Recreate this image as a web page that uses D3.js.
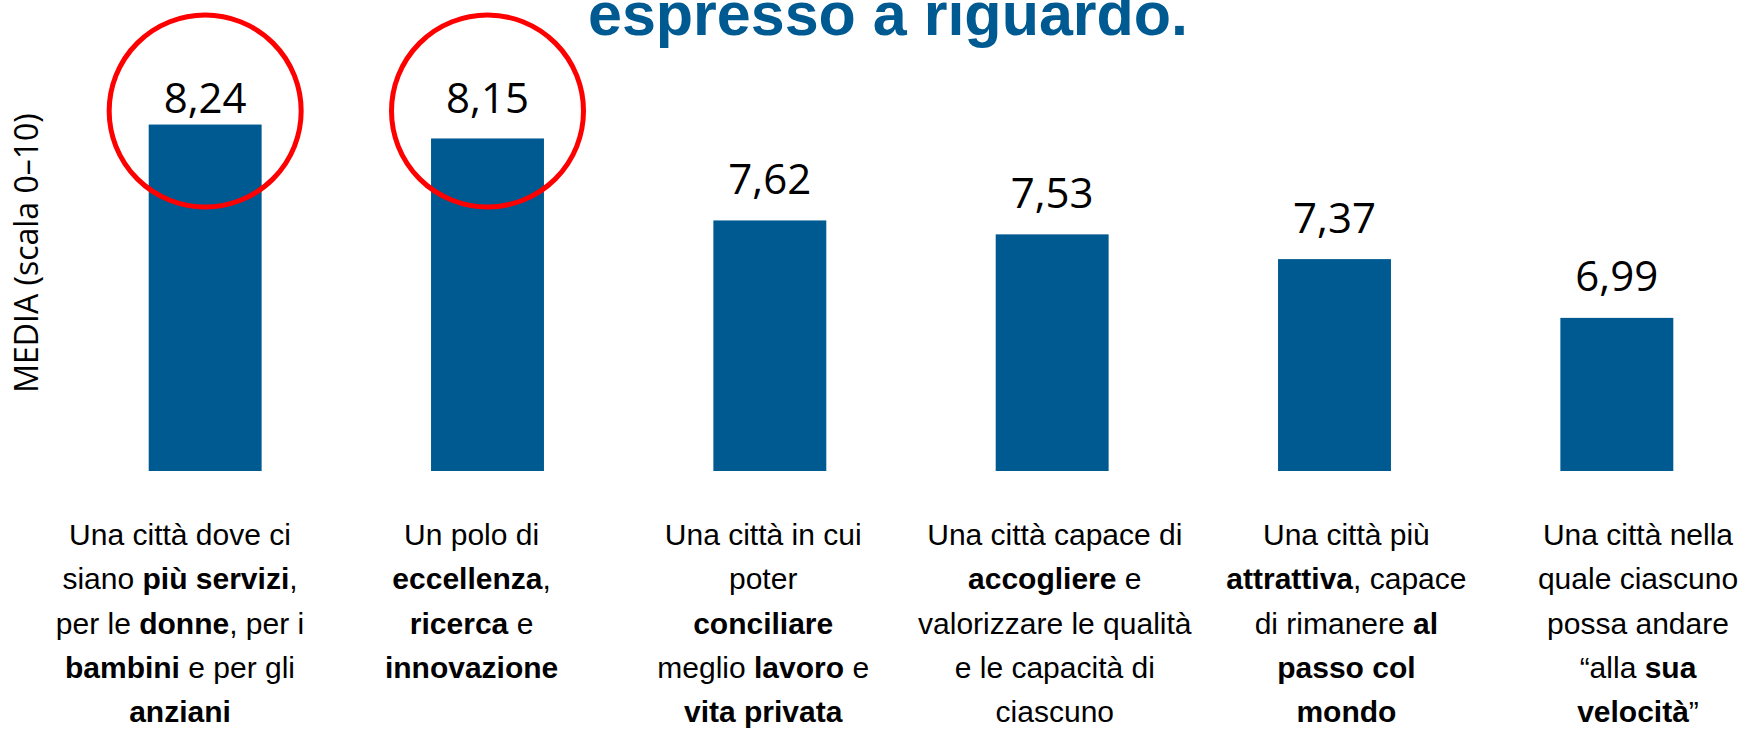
<!DOCTYPE html>
<html>
<head>
<meta charset="utf-8">
<script src="https://cdnjs.cloudflare.com/ajax/libs/d3/7.8.5/d3.min.js"></script>
<style>
    body { margin: 0; background: #ffffff; }
    svg { display: block; }
</style>
</head>
<body>
<div id="chart"></div>
<script>

// data -------------------------------------------------------------------------------------
var categories = ["servizi", "eccellenza", "conciliare", "accogliere", "attrattiva", "velocita"];
var values = [8.24, 8.15, 7.62, 7.53, 7.37, 6.99];
var highlighted = ["servizi", "eccellenza"];

// category labels, one array of lines per bar ( **...** = bold )
var labelLines = [
    ["Una città dove ci", "siano **più servizi**,", "per le **donne**, per i", "**bambini** e per gli", "**anziani**"],
    ["Un polo di", "**eccellenza**,", "**ricerca** e", "**innovazione**"],
    ["Una città in cui", "poter", "**conciliare**", "meglio **lavoro** e", "**vita privata**"],
    ["Una città capace di", "**accogliere** e", "valorizzare le qualità", "e le capacità di", "ciascuno"],
    ["Una città più", "**attrattiva**, capace", "di rimanere **al**", "**passo col**", "**mondo**"],
    ["Una città nella", "quale ciascuno", "possa andare", "“alla **sua**", "**velocità**”"]
];

var titleText = "espresso a riguardo.";
var yAxisTitle = "MEDIA (scala 0–10)";

// layout ------------------------------------------------------------------------------------
var width = 1743, height = 729;
var barColor = "#005A92";

var svg = d3.select("#chart")
    .append("svg")
    .attr("width", width)
    .attr("height", height);

var x = d3.scaleBand()
    .domain(categories)
    .range([64, 1758])
    .paddingInner(0.6)
    .paddingOuter(0.3);

// the text blocks under the bars are spread a little wider than the bars
var xLabel = d3.scalePoint()
    .domain(categories)
    .range([180, 1638]);

var y = d3.scaleLinear()
    .domain([6, 9])
    .range([471, 7]);

// title (second line, the first one is cut off above the picture)
svg.append("text")
    .attr("x", 888)
    .attr("y", 35)
    .attr("text-anchor", "middle")
    .style("font-family", "'Liberation Sans', Arial, sans-serif")
    .style("font-weight", "bold")
    .style("font-size", "61px")
    .style("fill", barColor)
    .text(titleText);

// y axis title
svg.append("text")
    .attr("transform", "translate(38,253) rotate(-90)")
    .attr("text-anchor", "middle")
    .style("font-family", "'Open Sans', sans-serif")
    .style("font-size", "32px")
    .style("fill", "#000")
    .text(yAxisTitle);

// bars
svg.selectAll(".bar")
    .data(values)
    .enter().append("rect")
    .attr("class", "bar")
    .attr("x", function(d, i) { return x(categories[i]); })
    .attr("y", function(d) { return y(d); })
    .attr("width", x.bandwidth())
    .attr("height", function(d) { return y.range()[0] - y(d); })
    .attr("fill", barColor);

// value labels
svg.selectAll(".value")
    .data(values)
    .enter().append("text")
    .attr("class", "value")
    .attr("x", function(d, i) { return x(categories[i]) + x.bandwidth() / 2; })
    .attr("y", function(d) { return Math.max(y(d) - 26.5, 112.7); })
    .attr("text-anchor", "middle")
    .style("font-family", "'Open Sans', sans-serif")
    .style("font-size", "42px")
    .style("fill", "#000")
    .text(function(d) { return d.toFixed(2).replace(".", ","); });

// red circles round the two best results
svg.selectAll(".circle")
    .data(highlighted)
    .enter().append("circle")
    .attr("class", "circle")
    .attr("cx", function(d) { return x(d) + x.bandwidth() / 2; })
    .attr("cy", 111)
    .attr("r", 96)
    .attr("fill", "none")
    .attr("stroke", "#FF0000")
    .attr("stroke-width", 5);

// category labels
var labels = svg.selectAll(".catlabel")
    .data(labelLines)
    .enter().append("text")
    .attr("class", "catlabel")
    .attr("text-anchor", "middle")
    .style("font-family", "'Liberation Sans', Arial, sans-serif")
    .style("font-size", "30px")
    .style("fill", "#000");

labels.each(function(lines, i) {
    var t = d3.select(this);
    lines.forEach(function(line, j) {
        var ln = t.append("tspan")
            .attr("x", xLabel(categories[i]))
            .attr("y", 545 + j * 44.3);
        line.split("**").forEach(function(part, k) {
            if (part == "") return;
            ln.append("tspan")
                .style("font-weight", k % 2 ? "bold" : "normal")
                .text(part);
        });
    });
});

</script>
</body>
</html>
